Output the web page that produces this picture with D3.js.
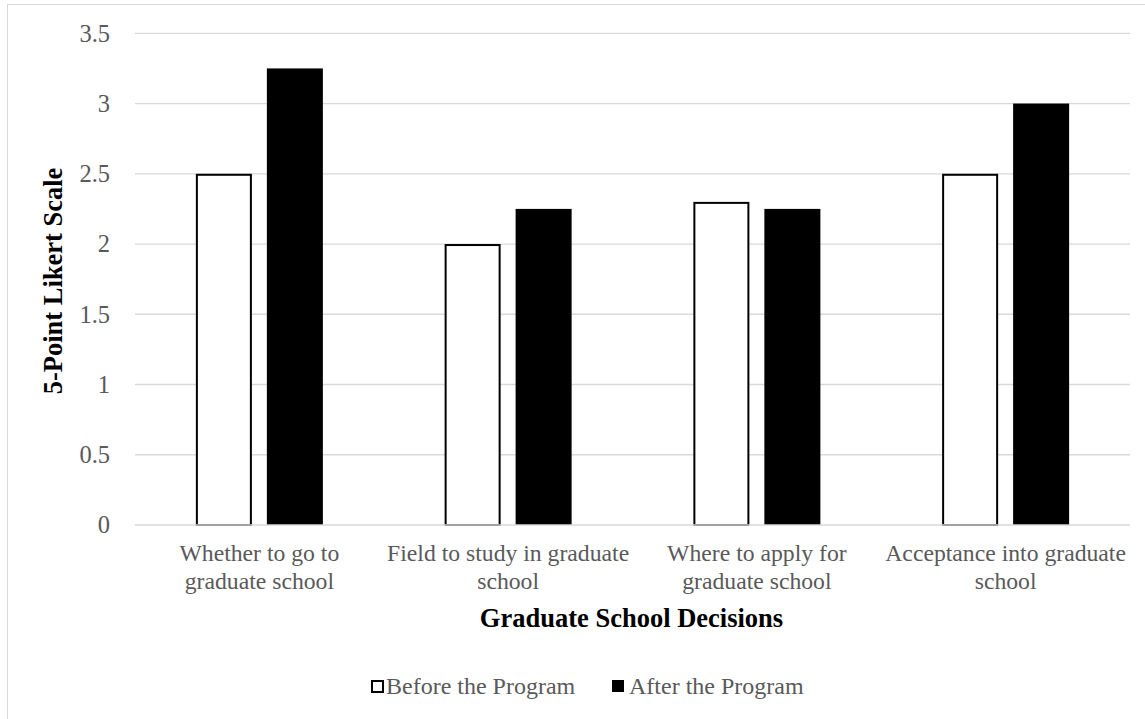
<!DOCTYPE html>
<html>
<head>
<meta charset="utf-8">
<script src="https://cdn.jsdelivr.net/npm/d3@7"></script>
<style>
  html, body { margin: 0; padding: 0; background: #fff; }
  svg { display: block; }
</style>
</head>
<body>
<svg id="chart" width="1145" height="719"></svg>
<script>
// Mean ratings on a 5-point Likert scale, before and after the program
const categories = [
  ["Whether to go to", "graduate school"],
  ["Field to study in graduate", "school"],
  ["Where to apply for", "graduate school"],
  ["Acceptance into graduate", "school"]
];
const seriesNames = ["Before the Program", "After the Program"];
const beforeValues = [2.5, 2.0, 2.3, 2.5];
const afterValues = [3.25, 2.25, 2.25, 3.0];
const yTicks = [0, 0.5, 1, 1.5, 2, 2.5, 3, 3.5];

const svg = d3.select("#chart");
const font = "'Liberation Serif', 'Times New Roman', serif";

// outer chart frame
svg.append("rect")
  .attr("x", 7.5).attr("y", 4.5)
  .attr("width", 1150).attr("height", 730)
  .attr("fill", "none").attr("stroke", "#d9d9d9").attr("stroke-width", 1);

const plot = { left: 135, right: 1130, top: 33.3, bottom: 525 };

const y = d3.scaleLinear().domain([0, 3.5]).range([plot.bottom, plot.top]);
const x0 = d3.scaleBand().domain(d3.range(categories.length))
  .range([plot.left, plot.right]).paddingInner(0).paddingOuter(0);
const x1 = d3.scaleBand().domain([0, 1])
  .range([-63.5, 63.5]).paddingInner(0.211).paddingOuter(0);

// gridlines
svg.append("g").selectAll("line").data(yTicks.filter(d => d > 0)).join("line")
  .attr("x1", plot.left).attr("x2", plot.right)
  .attr("y1", d => y(d)).attr("y2", d => y(d))
  .attr("stroke", "#d9d9d9").attr("stroke-width", 1.3);

// y axis labels
const yAxis = svg.append("g")
  .attr("transform", `translate(${plot.left - 25},0)`)
  .call(d3.axisLeft(y).tickValues(yTicks).tickSize(0).tickPadding(0).tickFormat(d3.format("")));
yAxis.select(".domain").remove();
yAxis.selectAll("text")
  .attr("font-family", font).attr("font-size", 24.5).attr("fill", "#595959")
  .attr("dy", "0.32em");

const center = i => x0(i) + x0.bandwidth() / 2;

// bars
const groups = svg.append("g").selectAll("g")
  .data(categories.map((c, i) => ({ i, vals: [beforeValues[i], afterValues[i]] })))
  .join("g")
  .attr("transform", d => `translate(${center(d.i)},0)`);

groups.append("rect")
  .attr("x", x1(1)).attr("width", x1.bandwidth())
  .attr("y", d => y(d.vals[1])).attr("height", d => y(0) - y(d.vals[1]))
  .attr("fill", "#000");

// baseline axis
svg.append("line")
  .attr("x1", plot.left).attr("x2", plot.right)
  .attr("y1", y(0)).attr("y2", y(0))
  .attr("stroke", "#d9d9d9").attr("stroke-width", 1.3);

groups.append("rect")
  .attr("x", x1(0) + 1).attr("width", x1.bandwidth() - 2)
  .attr("y", d => y(d.vals[0]) + 1).attr("height", d => y(0) - y(d.vals[0]) - 1)
  .attr("fill", "#fff").attr("stroke", "#000").attr("stroke-width", 2);

// category labels
const catLabels = svg.append("g").selectAll("text").data(categories).join("text")
  .attr("x", (d, i) => center(i)).attr("y", 561)
  .attr("text-anchor", "middle")
  .attr("font-family", font).attr("font-size", 23.7).attr("fill", "#595959");
catLabels.selectAll("tspan").data(d => d).join("tspan")
  .attr("x", function() { return d3.select(this.parentNode).attr("x"); })
  .attr("dy", (d, j) => j === 0 ? 0 : 27.5)
  .text(d => d);

// axis titles
svg.append("text")
  .attr("x", (plot.left + plot.right) / 2 - 1).attr("y", 627)
  .attr("text-anchor", "middle")
  .attr("font-family", font).attr("font-size", 26.5).attr("font-weight", "bold").attr("fill", "#000")
  .text("Graduate School Decisions");

svg.append("text")
  .attr("transform", "translate(62,281) rotate(-90)")
  .attr("text-anchor", "middle")
  .attr("font-family", font).attr("font-size", 26.5).attr("font-weight", "bold").attr("fill", "#000")
  .text("5-Point Likert Scale");

// legend
const legendX = [371, 612];
const legend = svg.append("g").selectAll("g").data(seriesNames).join("g")
  .attr("transform", (d, i) => `translate(${legendX[i]},680)`);
legend.append("rect")
  .attr("x", (d, i) => i === 0 ? 1 : 0).attr("y", (d, i) => i === 0 ? 1 : 0)
  .attr("width", (d, i) => i === 0 ? 11 : 12).attr("height", (d, i) => i === 0 ? 11 : 12)
  .attr("fill", (d, i) => i === 0 ? "#fff" : "#000")
  .attr("stroke", (d, i) => i === 0 ? "#000" : "none").attr("stroke-width", 2);
legend.append("text")
  .attr("x", (d, i) => i === 0 ? 15 : 17).attr("y", 14)
  .attr("font-family", font).attr("font-size", 24).attr("fill", "#595959")
  .text(d => d);
</script>
</body>
</html>
